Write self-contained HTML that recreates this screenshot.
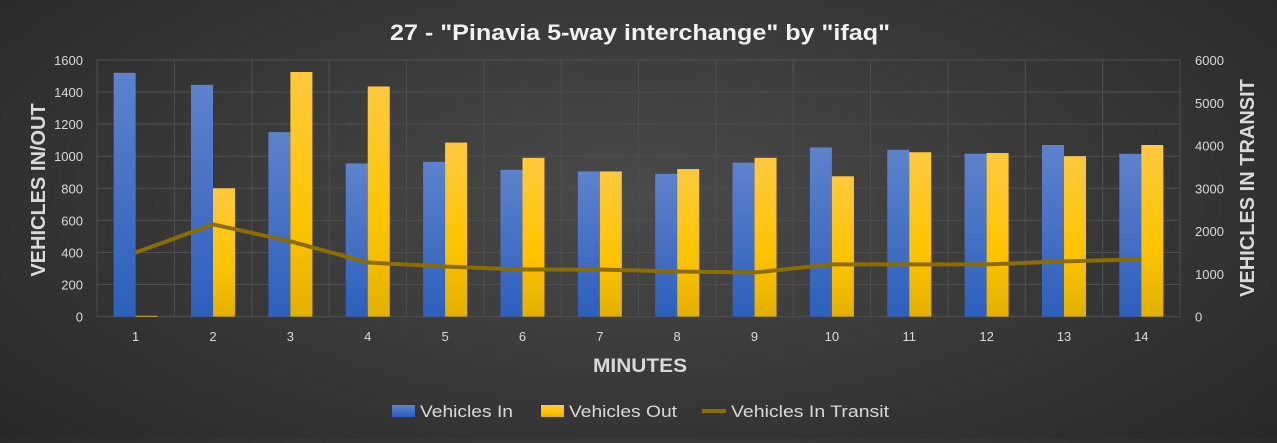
<!DOCTYPE html>
<html><head><meta charset="utf-8"><style>
html,body{margin:0;padding:0}
body{width:1277px;height:438px;overflow:hidden;background:radial-gradient(ellipse 70% 90% at 50% 45%,#4a4a4a 0%,#3a3a3a 45%,#262626 100%);font-family:"Liberation Sans",sans-serif}
</style></head><body>
<svg width="1277" height="438" xmlns="http://www.w3.org/2000/svg" font-family="Liberation Sans, DejaVu Sans, sans-serif">
<defs>
<linearGradient id="gb" x1="0" y1="0" x2="0" y2="1"><stop offset="0" stop-color="#5e82cc"/><stop offset="1" stop-color="#2d5fbd"/></linearGradient>
<linearGradient id="gy" x1="0" y1="0" x2="0" y2="1"><stop offset="0" stop-color="#ffc93f"/><stop offset="0.6" stop-color="#ffc400"/><stop offset="1" stop-color="#e3b000"/></linearGradient>
</defs>
<text x="390" y="40" textLength="500" lengthAdjust="spacingAndGlyphs" fill="#f2f2f2" font-size="22" font-weight="bold">27 - "Pinavia 5-way interchange" by "ifaq"</text>
<g id="grid" stroke="#4f4f4f" stroke-width="1"></g>
<g id="bars"></g>
<g id="labels" fill="#d9d9d9" font-size="13"></g>
<text transform="translate(45,190) rotate(-90)" text-anchor="middle" fill="#d9d9d9" font-size="20" font-weight="bold">VEHICLES IN/OUT</text>
<text transform="translate(1254,188) rotate(-90)" text-anchor="middle" fill="#d9d9d9" font-size="20" font-weight="bold">VEHICLES IN TRANSIT</text>
<text x="593" y="372" textLength="94" lengthAdjust="spacingAndGlyphs" fill="#d9d9d9" font-size="19" font-weight="bold">MINUTES</text>
<rect x="392" y="405" width="23" height="12" fill="url(#gb)"/>
<text x="420" y="417" textLength="93" lengthAdjust="spacingAndGlyphs" fill="#d9d9d9" font-size="17">Vehicles In</text>
<rect x="541" y="405" width="23" height="12" fill="url(#gy)"/>
<text x="569" y="417" textLength="108" lengthAdjust="spacingAndGlyphs" fill="#d9d9d9" font-size="17">Vehicles Out</text>
<line x1="702" y1="411" x2="726" y2="411" stroke="#8c6d00" stroke-width="4"/>
<text x="731" y="417" textLength="158" lengthAdjust="spacingAndGlyphs" fill="#d9d9d9" font-size="17">Vehicles In Transit</text>
</svg>
<script>
var ns="http://www.w3.org/2000/svg";
function el(p,t,a,txt){var e=document.createElementNS(ns,t);for(var k in a)e.setAttribute(k,a[k]);if(txt!==undefined)e.textContent=txt;document.getElementById(p).appendChild(e);return e;}
var L=97,R=1180,T=60,B=316.6,H=B-T,cw=(R-L)/14;
for(var i=0;i<=8;i++){var y=B-H*i/8;el('grid','line',{x1:L,x2:R,y1:y,y2:y});el('labels','text',{x:83,y:y+5,'text-anchor':'end'},String(i*200));}
for(var i=0;i<=14;i++){var x=L+cw*i;el('grid','line',{x1:x,x2:x,y1:T,y2:B});}
for(var i=0;i<=6;i++){var y=B-H*i/6;el('labels','text',{x:1195,y:y+5},String(i*1000));}
var vin=[1520,1445,1150,955,965,915,905,890,960,1055,1040,1015,1070,1015];
var vout=[5,800,1525,1435,1085,990,905,920,990,875,1025,1020,1000,1070];
var tr=[1500,2156,1760,1265,1170,1100,1100,1055,1030,1220,1220,1220,1290,1340];
var pts=[];
for(var i=0;i<14;i++){var c=L+cw*(i+0.5);
var h1=vin[i]/1600*H,h2=vout[i]/1600*H;
el('bars','rect',{x:c-22,y:B-h1,width:22,height:h1,fill:'url(#gb)'});
el('bars','rect',{x:c,y:B-h2,width:22,height:h2,fill:'url(#gy)'});
el('labels','text',{x:c,y:341,'text-anchor':'middle'},String(i+1));
pts.push(c+','+(B-tr[i]/6000*H));}
el('bars','polyline',{points:pts.join(' '),fill:'none',stroke:'#8c6d00','stroke-width':4,'stroke-linejoin':'round'});
</script>
</body></html>
